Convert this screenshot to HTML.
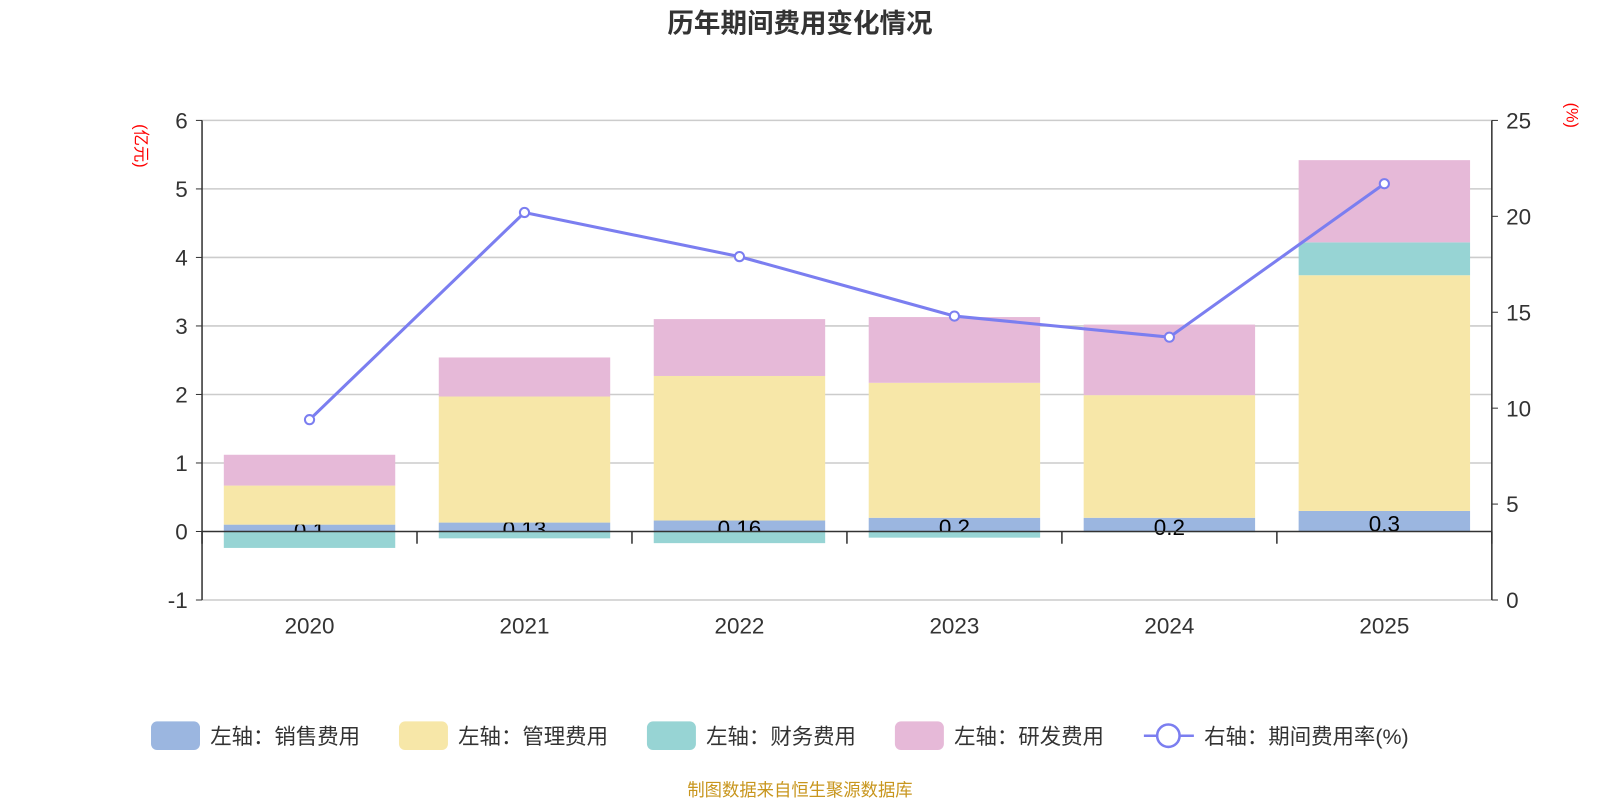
<!DOCTYPE html>
<html><head><meta charset="utf-8"><style>
body{margin:0;background:#fff;width:1600px;height:800px;overflow:hidden;font-family:"Liberation Sans","Noto Sans CJK SC",sans-serif}
</style></head><body>
<svg id="c" width="1600" height="800" viewBox="0 0 1568 784" xmlns="http://www.w3.org/2000/svg" style="font-family:'Liberation Sans','Noto Sans CJK SC',sans-serif">
<text x="784" y="32" text-anchor="middle" font-size="26" font-weight="bold" fill="#333">历年期间费用变化情况</text>
<text transform="translate(133,143) rotate(90)" text-anchor="middle" font-size="16" fill="#f00">(亿元)</text>
<text transform="translate(1535,113) rotate(90)" text-anchor="middle" font-size="16" fill="#f00">(%)</text>
<g id="grid"></g><g id="bars"></g><g id="axes"></g><g id="line"></g>
<g id="legend" font-size="21" fill="#333"></g>
<text x="784" y="780" text-anchor="middle" font-size="17" fill="#c8961e">制图数据来自恒生聚源数据库</text>
</svg>
<script>
const years=["2020","2021","2022","2023","2024","2025"];
const sales=[0.1,0.13,0.16,0.2,0.2,0.3];
const salesLabels=["0.1","0.13","0.16","0.2","0.2","0.3"];
const mgmt=[0.57,1.84,2.11,1.97,1.79,3.44];
const finance=[-0.24,-0.1,-0.17,-0.09,-0.01,0.48];
const rnd=[0.45,0.57,0.83,0.96,1.03,1.2];
const rate=[9.4,20.2,17.9,14.8,13.7,21.7];
const leftTicks=[-1,0,1,2,3,4,5,6];
const rightTicks=[0,5,10,15,20,25];
const NS="http://www.w3.org/2000/svg";
const X0=198,X1=1462,YT=118,YB=588;
const yL=v=>YB-(v+1)/7*(YB-YT);
const yR=v=>YB-v/25*(YB-YT);
const bw=(X1-X0)/years.length;
const xC=i=>X0+bw*(i+0.5);
function mk(t,a,p){const e=document.createElementNS(NS,t);for(const k in a)e.setAttribute(k,a[k]);p.appendChild(e);return e;}
const g=document.getElementById('grid'),b=document.getElementById('bars'),ax=document.getElementById('axes'),ln=document.getElementById('line'),lg=document.getElementById('legend');
leftTicks.forEach(v=>{
 if(v!==0){const l=mk('line',{x1:X0,x2:X1,y1:yL(v),y2:yL(v),stroke:'#ccc','stroke-width':1.5},g);
 
 }
 const t=mk('text',{x:X0-14,y:yL(v)+8,'text-anchor':'end','font-size':22,fill:'#333'},ax);t.textContent=v;
 
 
 mk('line',{x1:X0-6,x2:X0,y1:yL(v),y2:yL(v),stroke:'#333'},ax);
});
rightTicks.forEach(v=>{
 const t=mk('text',{x:X1+14,y:yR(v)+8,'font-size':22,fill:'#333'},ax);t.textContent=v;
 
 
 mk('line',{x1:X1,x2:X1+6,y1:yR(v),y2:yR(v),stroke:'#333'},ax);
});
mk('line',{x1:X0,x2:X0,y1:YT,y2:YB,stroke:'#333','stroke-width':1.5},ax);
mk('line',{x1:X1,x2:X1,y1:YT,y2:YB,stroke:'#333','stroke-width':1.5},ax);
mk('line',{x1:X0,x2:X1,y1:yL(0),y2:yL(0),stroke:'#333','stroke-width':1.5},ax);
for(let i=0;i<=years.length;i++)mk('line',{x1:X0+bw*i,x2:X0+bw*i,y1:yL(0),y2:yL(0)+12,stroke:'#333','stroke-width':1.5},ax);
const cols={s:'#9bb6e0',m:'#f7e7a8',f:'#97d4d4',r:'#e6b9d8'};
function bar(i,v0,v1,c,name){const x=xC(i)-84;const y=Math.min(yL(v0),yL(v1));const h=Math.abs(yL(v0)-yL(v1));
 const r=mk('rect',{x:x,y:y,width:168,height:Math.max(h,0.5),fill:c},b);
 
 }
years.forEach((yr,i)=>{
 bar(i,0,sales[i],cols.s,'bar-sales-'+yr);
 const t=mk('text',{x:xC(i),y:(yL(0)+yL(sales[i]))/2+10,'text-anchor':'middle','font-size':22,fill:'#000'},b);t.textContent=salesLabels[i];
 
 
 let top=sales[i];
 if(finance[i]<0){bar(i,0,finance[i],cols.f,'bar-finance-'+yr);}
 bar(i,top,top+mgmt[i],cols.m,'bar-management-'+yr);top+=mgmt[i];
 if(finance[i]>=0){bar(i,top,top+finance[i],cols.f,'bar-finance-'+yr);top+=finance[i];}
 bar(i,top,top+rnd[i],cols.r,'bar-rnd-'+yr);
 const xl=mk('text',{x:xC(i),y:621,'text-anchor':'middle','font-size':22,fill:'#333'},ax);xl.textContent=yr;
 
 
});
const pl=mk('polyline',{points:rate.map((v,i)=>xC(i)+','+yR(v)).join(' '),fill:'none',stroke:'#7b7ef0','stroke-width':3},ln);


rate.forEach((v,i)=>{const c=mk('circle',{cx:xC(i),cy:yR(v),r:4.5,fill:'#fff',stroke:'#7b7ef0','stroke-width':2},ln);
 
 });
const legItems=[["左轴：销售费用",cols.s,148],["左轴：管理费用",cols.m,391],["左轴：财务费用",cols.f,634],["左轴：研发费用",cols.r,877]];
legItems.forEach(([txt,c,x])=>{
 const gr=mk('g',{},lg);
 
 
 mk('rect',{x:x,y:707,width:48,height:28,rx:6,fill:c},gr);
 const t=mk('text',{x:x+58,y:729},gr);t.textContent=txt;
});
const gl=mk('g',{},lg);


mk('line',{x1:1121,x2:1170,y1:721,y2:721,stroke:'#7b7ef0','stroke-width':2.5},gl);
mk('circle',{cx:1145,cy:721,r:11,fill:'#fff',stroke:'#7b7ef0','stroke-width':2.5},gl);
const lt=mk('text',{x:1180,y:729},gl);lt.textContent="右轴：期间费用率(%)";
</script>
</body></html>
